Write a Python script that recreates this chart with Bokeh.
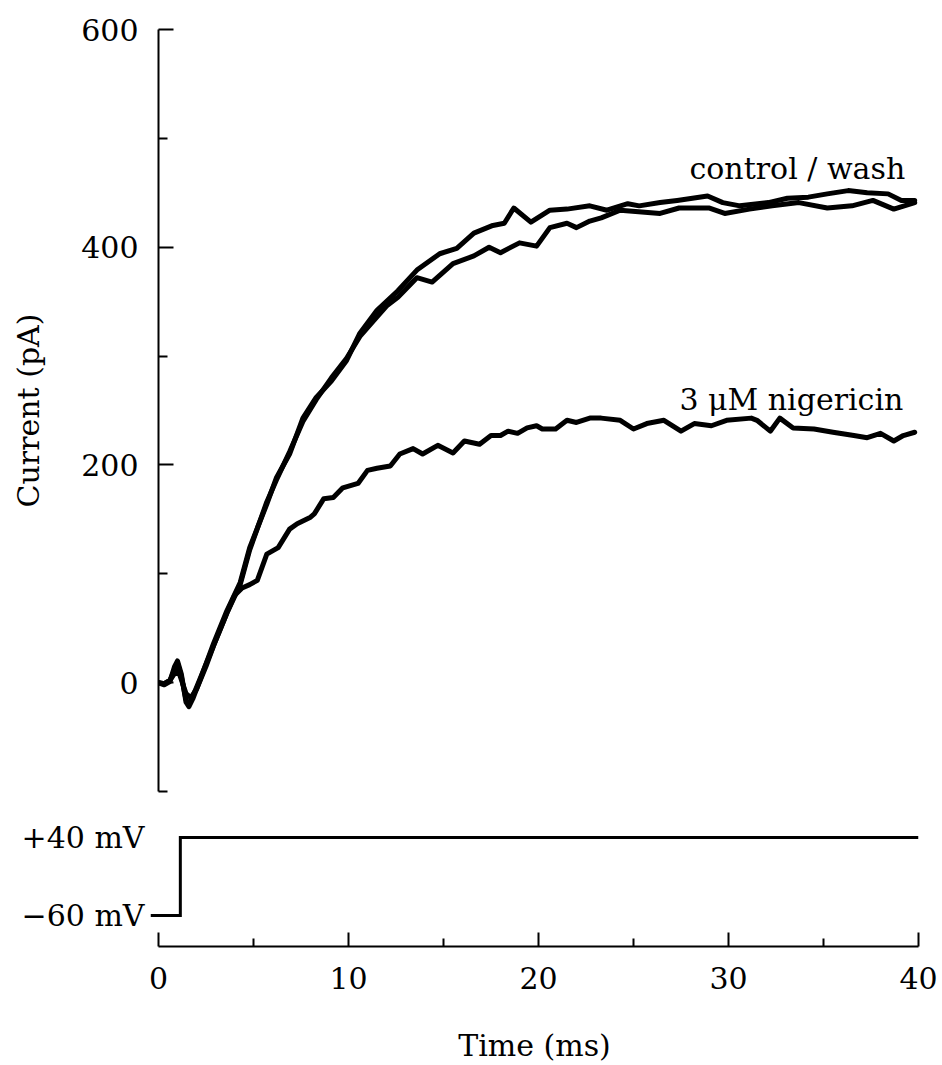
from bokeh.plotting import figure
from bokeh.layouts import column, row
from bokeh.models import Range1d, FixedTicker
from bokeh.core.properties import value
from bokeh.embed import file_html
from bokeh.resources import INLINE

FONT = "DejaVu Serif"

# ---- data (time in ms, current in pA) ----
control_t = [0, 0.3, 0.6, 0.85, 1.0, 1.2, 1.45, 1.6, 1.8, 2.2, 2.9, 3.6, 4.3,
             4.8, 5.7, 6.2, 6.9, 7.6, 8.3, 9.1, 9.9, 10.6, 11.5, 12.6, 13.6,
             14.8, 15.7, 16.6, 17.6, 18.2, 18.7, 19.6, 20.6, 21.5, 22.7, 23.6,
             24.7, 25.3, 26.4, 27.3, 28.9, 29.7, 30.6, 32.1, 33.1, 34.2, 35.2,
             36.3, 37.3, 38.4, 39.1, 39.8]
control_i = [0, -2, 1, 15, 20, 8, -18, -22, -15, 3, 36, 66, 92,
             124, 164, 188, 210, 243, 262, 277, 296, 321, 342, 360, 379,
             394, 399, 413, 420, 422, 436, 423, 434, 435, 438, 434,
             440, 438, 441, 443, 447, 441, 438, 441, 445, 446, 449,
             452, 450, 449, 443, 443]

wash_t = [0, 0.3, 0.6, 0.85, 1.0, 1.2, 1.45, 1.6, 1.8, 2.2, 2.9, 3.6, 4.3,
          4.8, 5.7, 6.2, 6.9, 7.6, 8.3, 9.1, 9.9, 10.6, 11.5, 12.0, 12.6,
          13.6, 14.4, 15.5, 16.6, 17.4, 18.0, 19.0, 19.9, 20.6, 21.5, 22.0,
          22.7, 23.3, 24.3, 26.4, 27.4, 29.0, 29.8, 31.1, 32.3, 33.7, 35.2,
          36.5, 37.6, 38.7, 39.8]
wash_i = [0, -1, 2, 12, 18, 6, -16, -20, -13, 4, 34, 64, 90,
          122, 166, 186, 212, 240, 260, 280, 298, 318, 336, 346, 354,
          372, 368, 385, 392, 400, 395, 404, 401, 418, 422, 418,
          424, 427, 434, 431, 436, 436, 431, 435, 438, 441, 436,
          438, 443, 435, 441]

nig_t = [0, 0.3, 0.6, 0.9, 1.1, 1.45, 1.7, 2.0, 2.5, 2.9, 3.6, 4.0, 4.4,
         4.8, 5.2, 5.7, 6.3, 6.9, 7.3, 8.0, 8.2, 8.7, 9.2, 9.7, 10.5, 11.0,
         11.5, 12.2, 12.7, 13.4, 13.9, 14.7, 15.5, 16.1, 16.9, 17.5, 18.0,
         18.4, 18.9, 19.4, 19.9, 20.2, 20.9, 21.5, 22.0, 22.7, 23.3, 24.3,
         25.0, 25.7, 26.6, 27.5, 28.2, 29.1, 29.9, 31.2, 31.5, 32.2, 32.7,
         33.4, 34.5, 35.5, 36.6, 37.3, 38.0, 38.7, 39.2, 39.8]
nig_i = [0, -1, 2, 10, 8, -10, -14, -6, 15, 34, 64, 80, 87,
         90, 94, 118, 124, 141, 146, 152, 155, 169, 170, 179, 183, 195,
         197, 199, 210, 215, 210, 218, 211, 222, 219, 227, 227,
         231, 229, 234, 236, 233, 233, 241, 239, 243, 243, 241,
         233, 238, 241, 231, 238, 236, 241, 243, 241, 231, 243,
         234, 233, 230, 227, 225, 229, 222, 227, 230]

# voltage protocol (ms, mV)
volt_t = [-0.42, 1.15, 1.15, 40]
volt_v = [-60, -60, 40, 40]
volt_ticks = [-60, 40]
volt_labels = ["\u221260 mV", "+40 mV"]

# trace labels
label_text = ["control / wash", "3 \u03bcM nigericin"]
label_t = [39.3, 39.2]
label_i = [472, 260]

x_ticks = [0, 10, 20, 30, 40]
x_minor = [5, 15, 25, 35]
y_ticks = [0, 200, 400, 600]
y_minor = [-100, 100, 300, 500]

# ---- top panel: current ----
top = figure(width=942, height=800, x_range=Range1d(0, 40), y_range=Range1d(-100, 600),
             x_axis_location=None, output_backend="svg", toolbar_location=None,
             min_border_left=158, min_border_right=24, min_border_top=29, min_border_bottom=9)
top.outline_line_color = None
top.grid.visible = False
ya = top.yaxis[0]
ya.ticker = FixedTicker(ticks=y_ticks, minor_ticks=y_minor)
ya.bounds = (-100, 600)
ya.major_tick_in = 15
ya.major_tick_out = 0
ya.minor_tick_in = 9
ya.minor_tick_out = 0
ya.axis_line_width = 2
ya.major_tick_line_width = 2
ya.minor_tick_line_width = 2
ya.axis_line_color = "black"
ya.major_label_text_font = FONT
ya.major_label_text_font_size = "30px"
ya.major_label_text_color = "black"
ya.major_label_standoff = 20
ya.axis_label = "Current (pA)"
ya.axis_label_text_font = FONT
ya.axis_label_text_font_size = "30px"
ya.axis_label_text_font_style = "normal"
ya.axis_label_text_color = "black"
ya.axis_label_standoff = 32

for tt, ii in ((wash_t, wash_i), (control_t, control_i), (nig_t, nig_i)):
    top.line(tt, ii, line_color="black", line_width=5, line_join="round", line_cap="round")

top.text(x=label_t, y=label_i, text=label_text, text_font=value(FONT),
         text_font_size="30px", text_align="right", text_baseline="alphabetic",
         text_color="black")

# ---- bottom panel: voltage protocol + time axis ----
bot = figure(width=942, height=265, x_range=Range1d(volt_t[0], 40), y_range=Range1d(-100, 62),
             output_backend="svg", toolbar_location=None,
             min_border_left=150, min_border_right=24, min_border_top=20, min_border_bottom=119)
bot.outline_line_color = None
bot.grid.visible = False
bot.line(volt_t, volt_v, line_color="black", line_width=3, line_join="miter")

xa = bot.xaxis[0]
xa.ticker = FixedTicker(ticks=x_ticks, minor_ticks=x_minor)
xa.bounds = (0, 40)
xa.major_tick_in = 14
xa.major_tick_out = 0
xa.minor_tick_in = 8
xa.minor_tick_out = 0
xa.axis_line_width = 2
xa.major_tick_line_width = 2
xa.minor_tick_line_width = 2
xa.axis_line_color = "black"
xa.major_label_text_font = FONT
xa.major_label_text_font_size = "30px"
xa.major_label_text_color = "black"
xa.major_label_standoff = 20
xa.axis_label = "Time (ms)"
xa.axis_label_text_font = FONT
xa.axis_label_text_font_size = "30px"
xa.axis_label_text_font_style = "normal"
xa.axis_label_text_color = "black"
xa.axis_label_standoff = 36

vb = bot.yaxis[0]
vb.ticker = FixedTicker(ticks=volt_ticks, minor_ticks=[])
vb.major_label_overrides = {k: s for k, s in zip(volt_ticks, volt_labels)}
vb.axis_line_color = None
vb.major_tick_line_color = None
vb.minor_tick_line_color = None
vb.major_label_standoff = 0
vb.major_label_text_font = FONT
vb.major_label_text_font_size = "30px"
vb.major_label_text_color = "black"

layout = column(top, row(bot), spacing=0)
open("out.html", "w").write(file_html(layout, INLINE))
